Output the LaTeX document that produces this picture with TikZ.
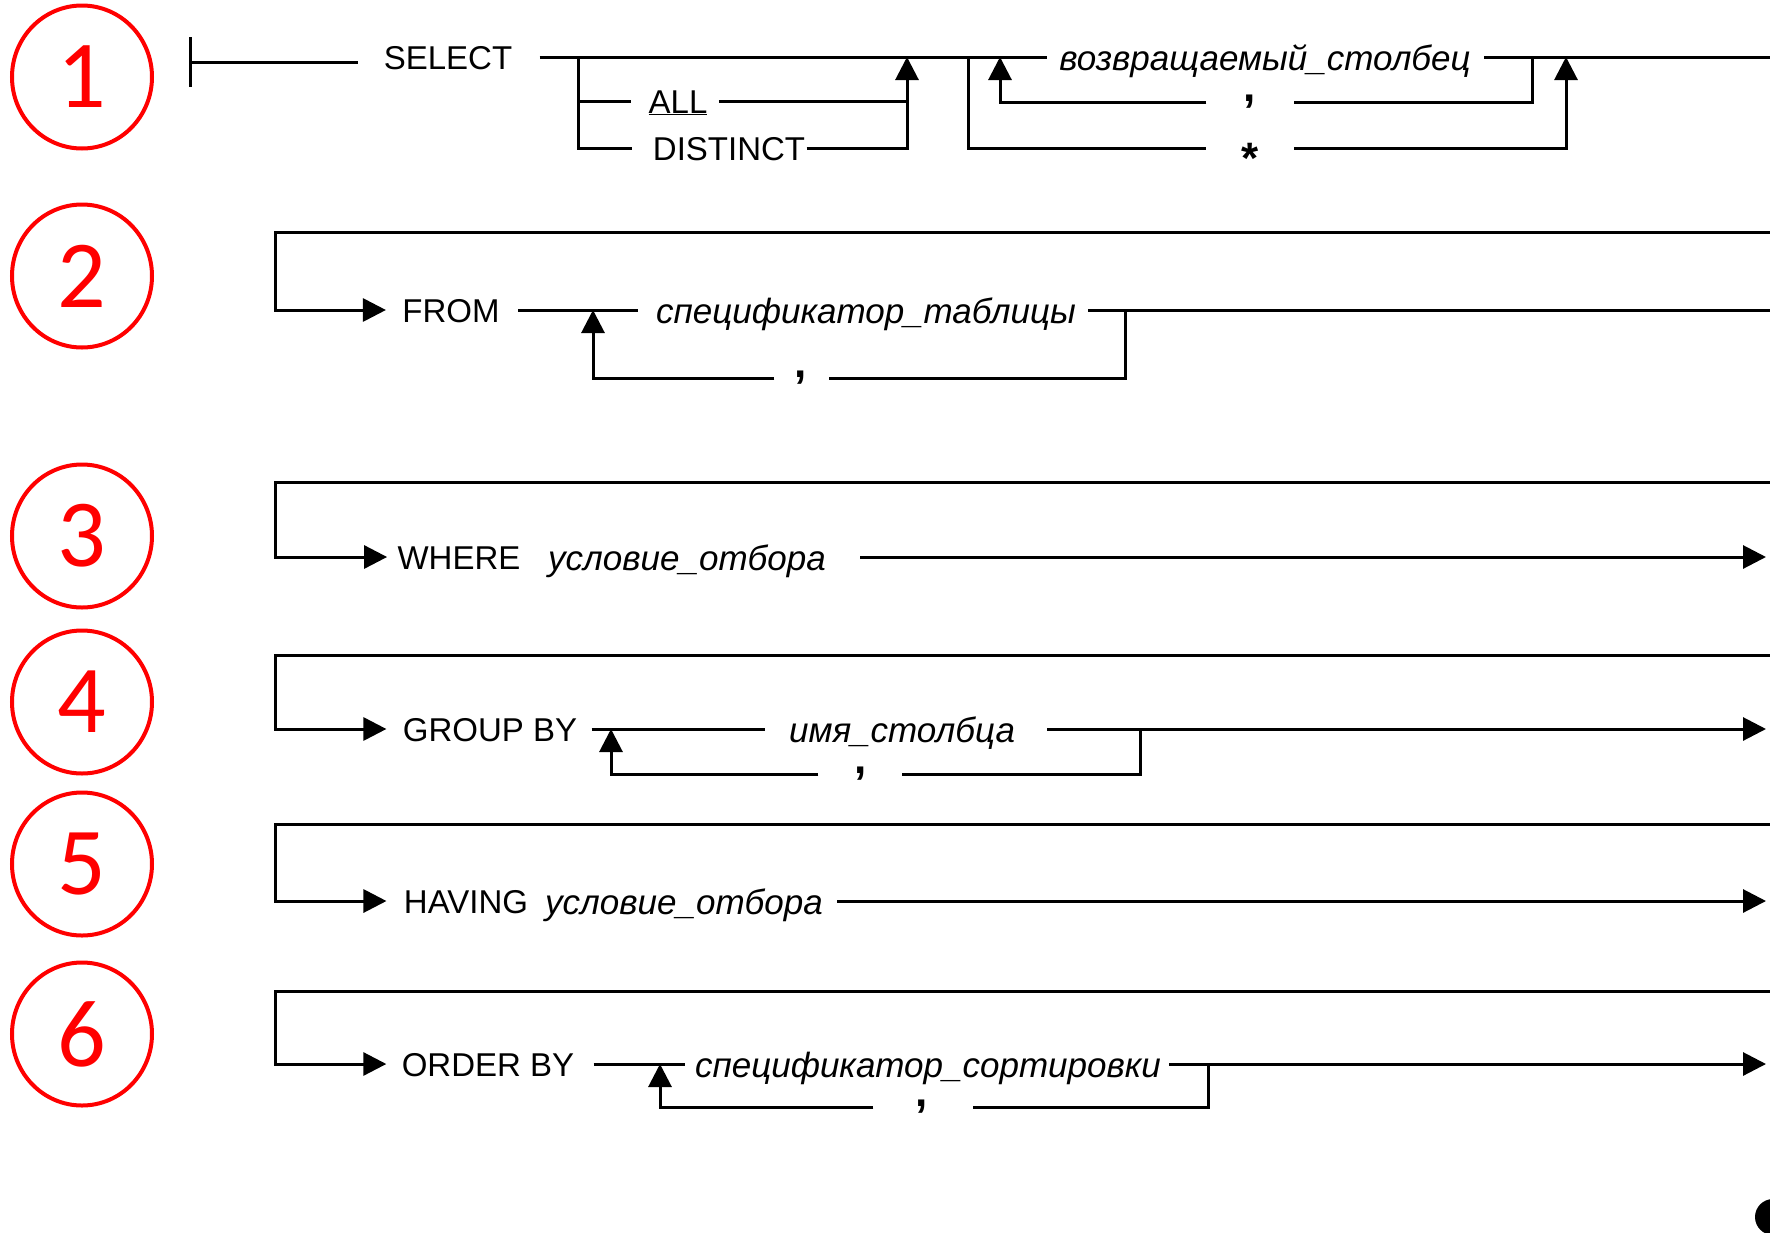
\documentclass[tikz,border=0pt]{standalone}
\usepackage{fontspec}
\setmainfont{Liberation Sans}
\newfontfamily\numfont{Carlito}
\usepackage{tikz}
\usetikzlibrary{arrows.meta,shapes.geometric,positioning}

\begin{document}
\begin{tikzpicture}[x=1pt,y=-1pt,line width=3pt,
  kw/.style={inner sep=0pt,text height=24pt,text depth=0pt,font=\fontsize{33}{36}\selectfont},
  ident/.style={inner sep=0pt,text height=26pt,text depth=0pt,font=\fontsize{35}{38}\selectfont\itshape},
  sepr/.style={inner sep=0pt,font=\fontsize{44}{46}\selectfont\bfseries},
  rr/.style={-{Triangle[length=23pt,width=23pt]}},
  numc/.style={draw=red,line width=4pt,ellipse,minimum width=140pt,minimum height=143pt,
    text=red,font=\numfont\fontsize{96}{100}\selectfont}]
  \useasboundingbox (0,0) rectangle (1770,1232);

  % step numbers
  \foreach \n/\y in {1/77,2/276,3/536,4/702,5/864,6/1034}
    \node[numc] (num\n) at (82,\y) {\n};

  % SELECT
  \node[kw] (select) at (448,57) {SELECT};
  \node[kw] (all) at (678,101) {\underline{ALL}};
  \node[kw] (distinct) at (729,148) {DISTINCT};
  \node[ident] (retcol) at (1265,57) {возвращаемый\_столбец};
  \node[sepr] (comma1) at (1250,102) {,};
  \node[sepr,text height=50pt,text depth=0pt] (star) at (1250,148) {*};
  \coordinate (st) at (190,62);
  \coordinate (j1) at (578,57);
  \coordinate (a1) at (907,57);
  \coordinate (j2) at (968,57);
  \coordinate (a2) at (1000,57);
  \coordinate (j3) at (1532,57);
  \coordinate (a3) at (1566,57);
  \coordinate (out1) at (1770,57);

  \draw (st) ++(0,-25) -- ++(0,50);
  \draw (st) -- ([xshift=-24pt]select.west |- st);
  \draw ([xshift=26pt]select.east) -- ([xshift=-11pt]retcol.west);
  \draw ([xshift=12pt]retcol.east) -- (out1);
  \draw (j1) |- ([xshift=-19pt]distinct.west);
  \draw (j1 |- all.west) -- ([xshift=-16pt]all.west);
  \draw ([xshift=10pt]all.east) -- (a1 |- all.east);
  \draw[rr] (distinct.east) -| (a1);
  \draw (j2) |- ([xshift=-34pt]star.west);
  \draw[rr] ([xshift=34pt]star.east) -| (a3);
  \draw (j3) |- ([xshift=36pt]comma1.east);
  \draw[rr] ([xshift=-36pt]comma1.west) -| (a2);

  % FROM
  \node[kw] (from) at (451,310) {FROM};
  \node[ident] (tabspec) at (866,310) {спецификатор\_таблицы};
  \node[sepr] (comma2) at (801,378) {,};
  \coordinate (top2) at (1770,232);
  \coordinate (left2) at (275,310);
  \coordinate (out2) at (1770,310);
  \coordinate (j4) at (1125,310);
  \coordinate (a4) at (593,310);
  \draw[rr] (top2) -| (left2) -- ([xshift=-15pt]from.west);
  \draw ([xshift=17pt]from.east) -- ([xshift=-17pt]tabspec.west);
  \draw ([xshift=11pt]tabspec.east) -- (out2);
  \draw (j4) |- ([xshift=20pt]comma2.east);
  \draw[rr] ([xshift=-19pt]comma2.west) -| (a4);

  % WHERE
  \node[kw] (where) at (459,557) {WHERE};
  \node[ident] (cond1) at (687,557) {условие\_отбора};
  \coordinate (top3) at (1770,482);
  \coordinate (left3) at (275,557);
  \coordinate (out3) at (1766,557);
  \draw[rr] (top3) -| (left3) -- ([xshift=-9pt]where.west);
  \draw[rr] ([xshift=33pt]cond1.east) -- (out3);

  % GROUP BY
  \node[kw] (groupby) at (490,729) {GROUP BY};
  \node[ident] (colname) at (902,729) {имя\_столбца};
  \node[sepr] (comma4) at (861,774) {,};
  \coordinate (top4) at (1770,655);
  \coordinate (left4) at (275,729);
  \coordinate (out4) at (1766,729);
  \coordinate (j5) at (1140,729);
  \coordinate (a5) at (611,729);
  \draw[rr] (top4) -| (left4) -- ([xshift=-15pt]groupby.west);
  \draw ([xshift=13pt]groupby.east) -- ([xshift=-23pt]colname.west);
  \draw[rr] ([xshift=31pt]colname.east) -- (out4);
  \draw (j5) |- ([xshift=33pt]comma4.east);
  \draw[rr] ([xshift=-35pt]comma4.west) -| (a5);

  % HAVING
  \node[kw] (having) at (466,901) {HAVING};
  \node[ident] (cond2) at (684,901) {условие\_отбора};
  \coordinate (top5) at (1770,824);
  \coordinate (left5) at (275,901);
  \coordinate (out5) at (1766,901);
  \draw[rr] (top5) -| (left5) -- ([xshift=-16pt]having.west);
  \draw[rr] ([xshift=13pt]cond2.east) -- (out5);

  % ORDER BY
  \node[kw] (orderby) at (488,1064) {ORDER BY};
  \node[ident] (sortspec) at (928,1064) {спецификатор\_сортировки};
  \node[sepr] (comma6) at (922,1107) {,};
  \coordinate (top6) at (1770,991);
  \coordinate (left6) at (275,1064);
  \coordinate (out6) at (1766,1064);
  \coordinate (j6) at (1208,1064);
  \coordinate (a6) at (660,1064);
  \draw[rr] (top6) -| (left6) -- ([xshift=-14pt]orderby.west);
  \draw ([xshift=18pt]orderby.east) -- ([xshift=-9pt]sortspec.west);
  \draw[rr] ([xshift=7pt]sortspec.east) -- (out6);
  \draw (j6) |- ([xshift=43pt]comma6.east);
  \draw[rr] ([xshift=-41pt]comma6.west) -| (a6);

  \fill (1773,1217) circle[radius=18pt];
\end{tikzpicture}
\end{document}
